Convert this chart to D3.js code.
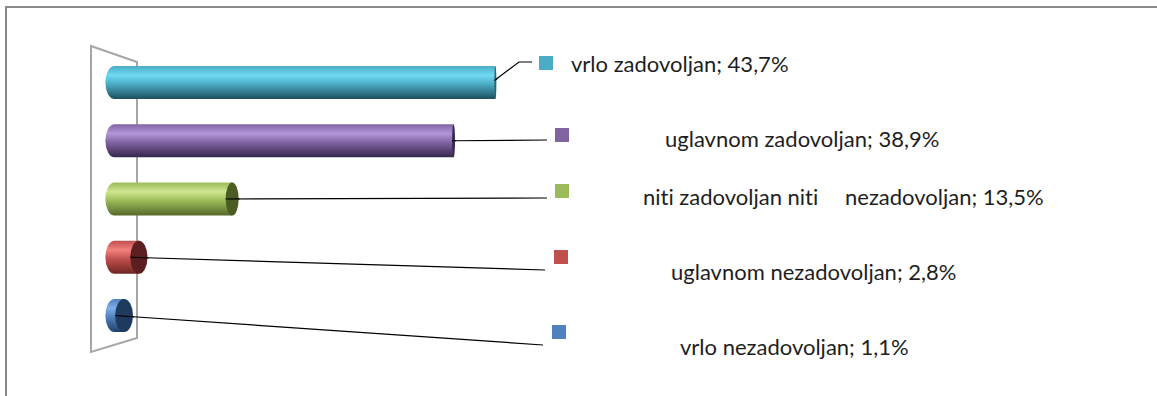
<!DOCTYPE html>
<html>
<head>
<meta charset="utf-8">
<script src="https://cdn.jsdelivr.net/npm/d3@7"></script>
<style>
  html, body { margin: 0; padding: 0; background: #fff; }
  svg { display: block; }
  text { font-family: Lato, "Open Sans", sans-serif; fill: #1e1e1e; font-variant-ligatures: none; font-feature-settings: "liga" 0, "clig" 0; }
</style>
</head>
<body>
<svg id="chart" width="1157" height="396"></svg>
<script>
// Survey answers, top bar first
const categories = [
  "vrlo zadovoljan",
  "uglavnom zadovoljan",
  "niti zadovoljan niti nezadovoljan",
  "uglavnom nezadovoljan",
  "vrlo nezadovoljan"
];
const values = [43.7, 38.9, 13.5, 2.8, 1.1];

// Cylinder palette: base, highlight, shadow, end-cap
const baseColors  = ["#4bacc6", "#8064a2", "#9bbb59", "#c0504d", "#4f81bd"];
const lightColors = ["#6fdaf2", "#b396d8", "#cfe68f", "#f3817e", "#7db0ea"];
const darkColors  = ["#1b4f5c", "#35264a", "#56692b", "#6e2523", "#22416a"];
const capColors   = ["#22697a", "#3b2b55", "#4b5c25", "#5a1f1e", "#1f3a5f"];

// Data-label placement (marker box + text start; green label breaks after word 3)
const labelMarkerX = [539, 555, 555, 554, 552];
const labelMarkerY = [56, 128, 184, 250, 325];
const labelTextX   = [571, 665, 643, 671, 680];
const labelBaseY   = [72, 147, 205, 280, 355];
const labelLeaderEnd = [[532, 62], [547, 140], [547, 198], [545, 270], [543, 345]];

const svg = d3.select("#chart");
const W = 1157, H = 396;

// outer frame (top and left edges visible)
svg.append("path")
  .attr("d", `M6,${H} L6,7 L${W},7`)
  .attr("fill", "none")
  .attr("stroke", "#8a8a8a")
  .attr("stroke-width", 2);

const x = d3.scaleLinear().domain([0, 50]).range([114.5, 550.3]);
const y = d3.scalePoint().domain(categories).range([82.5, 315.5]);
const barH = 33;
const ry = barH / 2;
// apparent width of an end cap shrinks toward the vanishing side
const capRx = px => Math.max(1, 9 * (520 - px) / 400);

// back wall of the 3-D plot area
svg.append("path")
  .attr("d", "M91,46 L137,62 L137,338 L91,352 Z")
  .attr("fill", "none")
  .attr("stroke", "#a6a6a6")
  .attr("stroke-width", 2)
  .attr("stroke-linejoin", "miter");

const defs = svg.append("defs");
categories.forEach((c, i) => {
  const g = defs.append("linearGradient")
    .attr("id", "cyl" + i)
    .attr("x1", 0).attr("y1", 0).attr("x2", 0).attr("y2", 1);
  g.append("stop").attr("offset", 0).attr("stop-color", baseColors[i]);
  g.append("stop").attr("offset", 0.28).attr("stop-color", lightColors[i]);
  g.append("stop").attr("offset", 0.55).attr("stop-color", baseColors[i]);
  g.append("stop").attr("offset", 1).attr("stop-color", darkColors[i]);
});

const rows = categories.map((c, i) => ({ c, v: values[i], i }));
const fmt = d3.formatLocale({ decimal: ",", thousands: ".", grouping: [3], currency: ["", ""] }).format(".1f");

// leader lines first, so they sit under the cylinders' caps
svg.append("g").selectAll("path")
  .data(rows)
  .join("path")
  .attr("fill", "none")
  .attr("stroke", "#000")
  .attr("stroke-width", 1.2)
  .attr("d", d => {
    const x1 = x(d.v), cy = y(d.c);
    const sx = x1 - capRx(x1);
    const [ex, ey] = labelLeaderEnd[d.i];
    if (d.i === 0) {
      return `M${sx},${cy - 2} L${ex - 13},${ey} L${ex},${ey}`;
    }
    return `M${sx},${cy} L${ex},${ey}`;
  });

const bars = svg.append("g").selectAll("g")
  .data(rows)
  .join("g");

bars.append("path")
  .attr("fill", d => `url(#cyl${d.i})`)
  .attr("d", d => {
    const x0 = x(0), x1 = x(d.v), cy = y(d.c);
    const r0 = capRx(x0);
    return `M${x0},${cy - ry} L${x1},${cy - ry} L${x1},${cy + ry} L${x0},${cy + ry}` +
           ` A${r0},${ry} 0 0 1 ${x0},${cy - ry} Z`;
  });

bars.append("ellipse")
  .attr("cx", d => x(d.v))
  .attr("cy", d => y(d.c))
  .attr("rx", d => capRx(x(d.v)))
  .attr("ry", ry)
  .attr("fill", d => capColors[d.i]);

// redraw leader starts on top of the caps
svg.append("g").selectAll("line")
  .data(rows)
  .join("line")
  .attr("stroke", "#000")
  .attr("stroke-width", 1.2)
  .attr("x1", d => x(d.v) - capRx(x(d.v)))
  .attr("y1", d => y(d.c) - (d.i === 0 ? 2 : 0))
  .attr("x2", d => x(d.v) + capRx(x(d.v)) + 1)
  .attr("y2", d => {
    const [ex, ey] = labelLeaderEnd[d.i];
    const sx = x(d.v) - capRx(x(d.v)), cy = y(d.c);
    if (d.i === 0) return cy - 2 - (cy - 2 - ey) * (2 * capRx(x(d.v)) + 1) / (ex - 13 - sx);
    return cy + (ey - cy) * (2 * capRx(x(d.v)) + 1) / (ex - sx);
  });

// data labels
const labels = svg.append("g").selectAll("g")
  .data(rows)
  .join("g");

labels.append("rect")
  .attr("x", d => labelMarkerX[d.i])
  .attr("y", d => labelMarkerY[d.i])
  .attr("width", 14)
  .attr("height", 14)
  .attr("fill", d => baseColors[d.i]);

labels.append("text")
  .attr("x", d => labelTextX[d.i])
  .attr("y", d => labelBaseY[d.i])
  .attr("font-size", 22)
  .each(function (d) {
    const t = d3.select(this);
    const full = `${d.c}; ${fmt(d.v)}%`;
    if (d.i === 2) {
      const words = full.split(" ");
      t.append("tspan").text(words.slice(0, 3).join(" "));
      t.append("tspan").attr("x", 845).text(words.slice(3).join(" "));
    } else {
      t.text(full);
    }
  });
</script>
</body>
</html>
